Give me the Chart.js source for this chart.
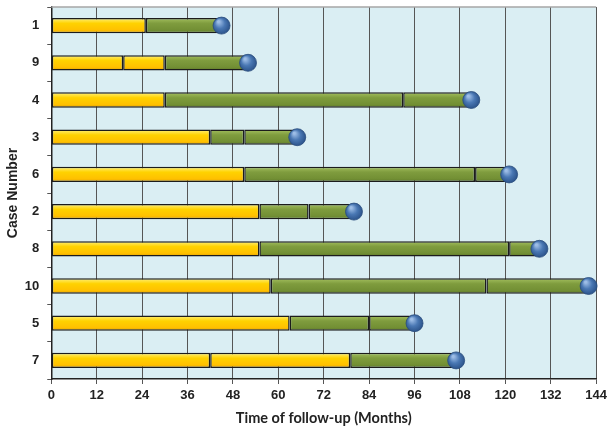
<!DOCTYPE html>
<html>
<head>
<meta charset="utf-8">
<script src="https://cdn.jsdelivr.net/npm/chart.js@4/dist/chart.umd.min.js"></script>
<style>
  html, body { margin: 0; padding: 0; background: #fff; }
  #wrap { width: 611px; height: 430px; position: relative; }
</style>
</head>
<body>
<div id="wrap"><canvas id="chart"></canvas></div>
<script>
// case order, top to bottom
const caseLabels = ['1', '9', '4', '3', '6', '2', '8', '10', '5', '7'];
// end of first yellow segment (months)
const yellowEnd1 = [25, 19, 30, 42, 51, 55, 55, 58, 63, 42];
// end of second yellow segment, if any
const yellowEnd2 = [null, 30, null, null, null, null, null, null, null, 79];
// split inside the green part, if any
const greenSplit = [null, null, 93, 51, 112, 68, 121, 115, 84, null];
// total follow-up (circle)
const followUp = [45, 52, 111, 65, 121, 80, 129, 142, 96, 107];
const xTicks = [0, 12, 24, 36, 48, 60, 72, 84, 96, 108, 120, 132, 144];

const BAR_H = 15;

function barFill(stops, flat) {
  return function (ctx) {
    const chart = ctx.chart;
    const yScale = chart.scales && chart.scales.y;
    if (!yScale || ctx.dataIndex === undefined) return flat;
    const cy = yScale.getPixelForValue(ctx.dataIndex);
    if (!isFinite(cy)) return flat;
    const g = chart.ctx.createLinearGradient(0, cy - BAR_H / 2, 0, cy + BAR_H / 2);
    stops.forEach(s => g.addColorStop(s[0], s[1]));
    return g;
  };
}

const yellowFill = barFill([[0, '#fff07a'], [0.35, '#ffd200'], [0.8, '#ffc000'], [1, '#e0a000']], '#ffcc00');
const greenFill = barFill([[0, '#a3bf5e'], [0.35, '#7f9c3e'], [0.8, '#728f34'], [1, '#5c7628']], '#77933c');

function circleFill(ctx) {
  const chart = ctx.chart;
  const flat = '#4a78b4';
  if (!chart.scales || !chart.scales.x || !chart.scales.y || !ctx.raw) return flat;
  const px = chart.scales.x.getPixelForValue(ctx.raw.x);
  const py = chart.scales.y.getPixelForValue(ctx.dataIndex);
  if (!isFinite(px) || !isFinite(py)) return flat;
  const g = chart.ctx.createRadialGradient(px - 3, py - 4, 1, px, py, 10);
  g.addColorStop(0, '#9dbde6');
  g.addColorStop(0.45, '#4a78b4');
  g.addColorStop(1, '#244a80');
  return g;
}

const yellowA = yellowEnd1.map(v => [0, v]);
const yellowB = yellowEnd2.map((v, i) => v == null ? null : [yellowEnd1[i], v]);
const greenA = followUp.map((v, i) => {
  const start = yellowEnd2[i] != null ? yellowEnd2[i] : yellowEnd1[i];
  return [start, greenSplit[i] != null ? greenSplit[i] : v];
});
const greenB = greenSplit.map((v, i) => v == null ? null : [v, followUp[i]]);

const barCommon = {
  type: 'bar',
  grouped: false,
  borderColor: '#1c1c1c',
  borderWidth: 1.5,
  borderSkipped: false,
  barPercentage: 0.41,
  categoryPercentage: 1,
  order: 1
};

const plotBg = {
  id: 'plotBg',
  beforeDraw(chart) {
    const { ctx, chartArea: a } = chart;
    ctx.save();
    ctx.fillStyle = '#daeef3';
    ctx.fillRect(a.left, a.top, a.right - a.left, a.bottom - a.top);
    ctx.restore();
  },
  afterDatasetsDraw(chart) {
    const { ctx, chartArea: a } = chart;
    ctx.save();
    ctx.strokeStyle = '#a6a6a6';
    ctx.lineWidth = 1.5;
    ctx.beginPath();
    ctx.moveTo(a.left, a.top);
    ctx.lineTo(a.right, a.top);
    ctx.stroke();
    ctx.restore();
  }
};

new Chart(document.getElementById('chart'), {
  type: 'bar',
  data: {
    labels: caseLabels,
    datasets: [
      Object.assign({ label: 'Yellow 1', data: yellowA, backgroundColor: yellowFill }, barCommon),
      Object.assign({ label: 'Yellow 2', data: yellowB, backgroundColor: yellowFill }, barCommon),
      Object.assign({ label: 'Green 1', data: greenA, backgroundColor: greenFill }, barCommon),
      Object.assign({ label: 'Green 2', data: greenB, backgroundColor: greenFill }, barCommon),
      {
        type: 'scatter',
        label: 'Follow-up',
        data: followUp.map((v, i) => ({ x: v, y: caseLabels[i] })),
        pointRadius: 8.5,
        pointHoverRadius: 8.5,
        pointBackgroundColor: circleFill,
        pointBorderColor: '#2a4d7e',
        pointBorderWidth: 0.8,
        clip: false,
        order: 0
      }
    ]
  },
  options: {
    indexAxis: 'y',
    responsive: true,
    maintainAspectRatio: false,
    animation: false,
    layout: { autoPadding: false, padding: { top: 7, right: 8, left: 0, bottom: 3 } },
    plugins: {
      legend: { display: false },
      tooltip: { enabled: false }
    },
    scales: {
      x: {
        type: 'linear',
        min: 0,
        max: 144,
        afterBuildTicks: axis => { axis.ticks = xTicks.map(v => ({ value: v })); },
        grid: {
          color: '#555555',
          lineWidth: 1,
          tickLength: 5,
          tickColor: '#555555'
        },
        border: { color: '#222222', width: 1.5 },
        ticks: {
          color: '#222222',
          padding: 4,
          font: { family: 'Liberation Sans', size: 13, weight: 'bold' }
        },
        title: {
          display: true,
          text: 'Time of follow-up (Months)',
          color: '#222222',
          padding: { top: 2, bottom: 0 },
          font: { family: 'Lato', size: 14.5, weight: 'bold' }
        }
      },
      y: {
        type: 'category',
        offset: true,
        afterFit: scale => { scale.paddingTop = 0; scale.paddingBottom = 0; },
        grid: {
          offset: true,
          drawOnChartArea: false,
          tickLength: 4,
          tickColor: '#555555'
        },
        border: { color: '#222222', width: 1.5 },
        ticks: {
          color: '#222222',
          padding: 8,
          font: { family: 'Liberation Sans', size: 13, weight: 'bold' }
        },
        title: {
          display: true,
          text: 'Case Number',
          color: '#222222',
          padding: { top: 5, bottom: -5 },
          font: { family: 'Liberation Sans', size: 14, weight: 'bold' }
        }
      }
    }
  },
  plugins: [plotBg]
});
</script>
</body>
</html>
